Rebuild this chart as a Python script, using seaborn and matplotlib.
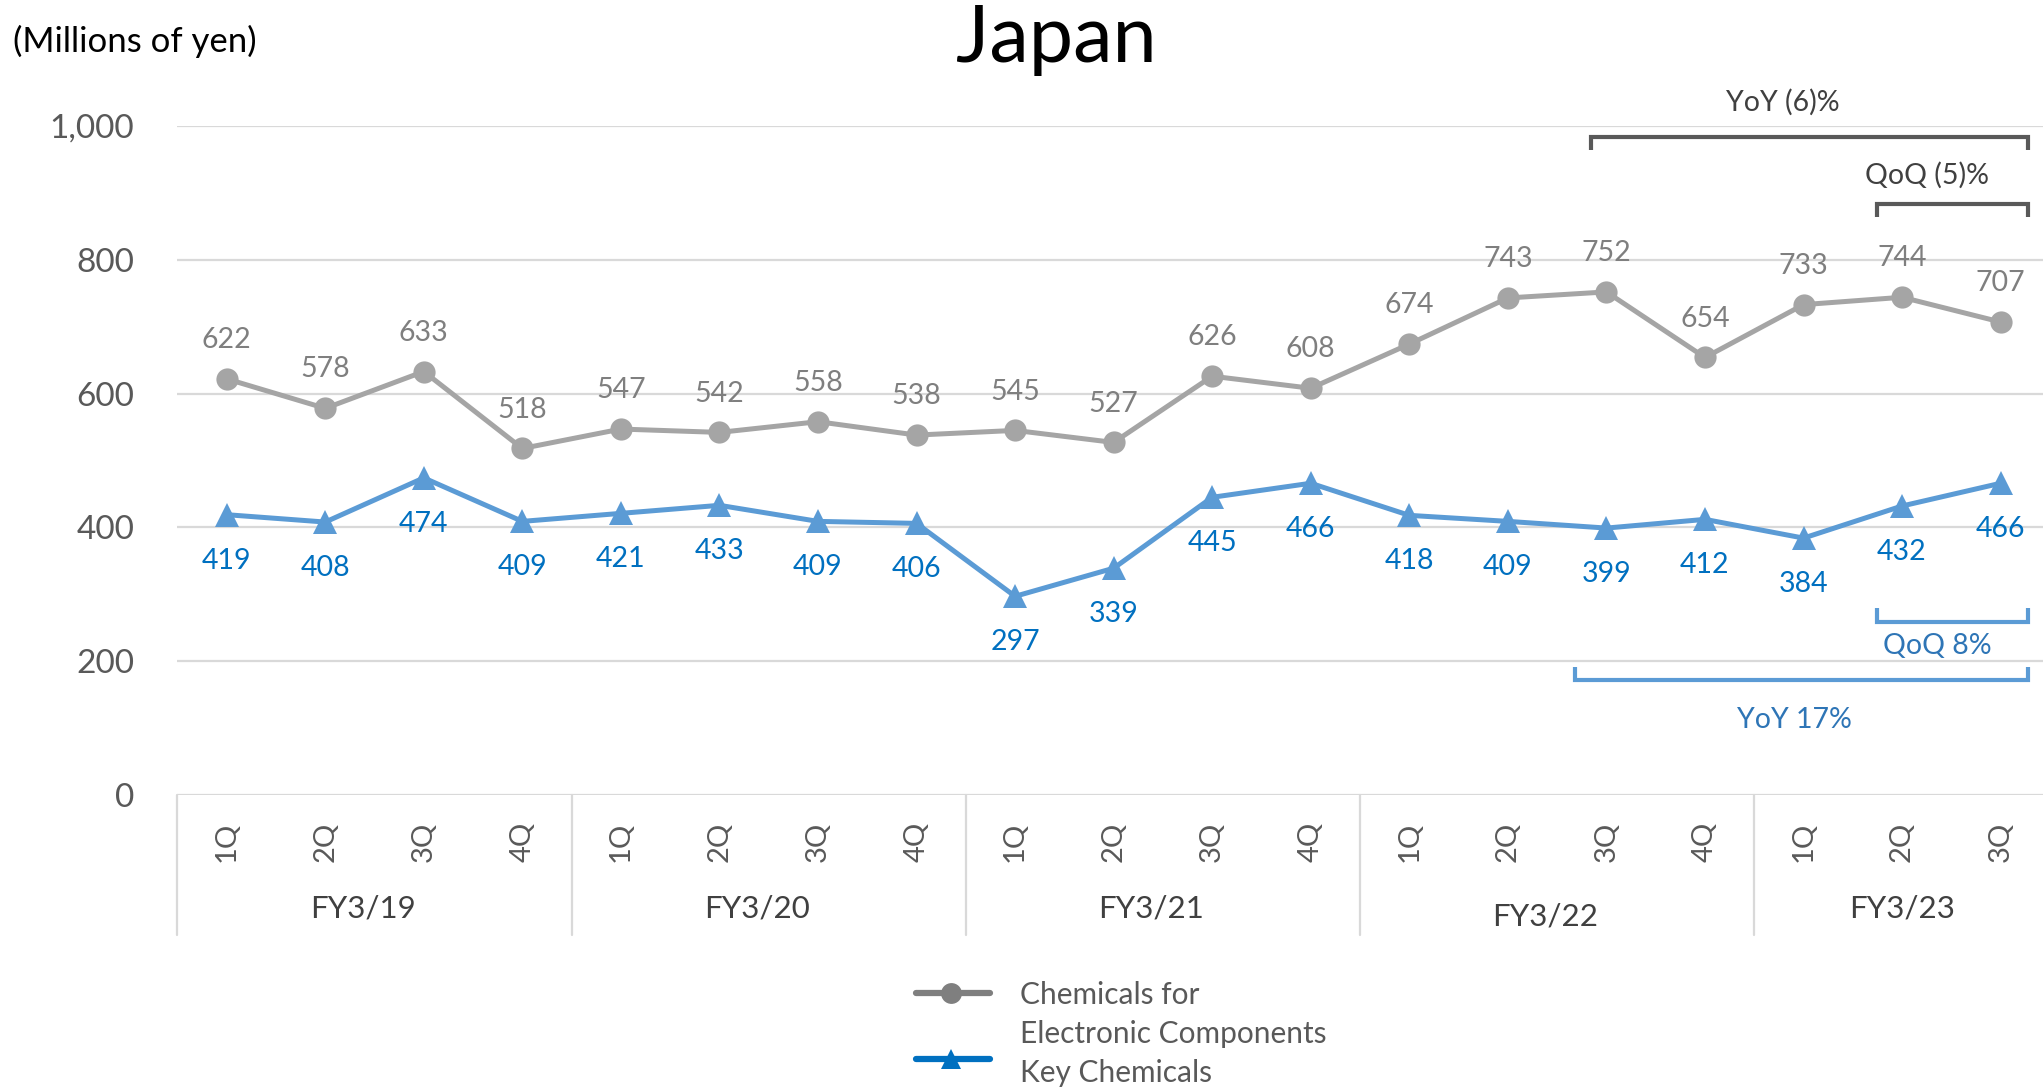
import matplotlib
matplotlib.use("Agg")
import matplotlib.pyplot as plt
import matplotlib.transforms as mtransforms
from matplotlib.lines import Line2D
import seaborn as sns
import pandas as pd

# ---- data ----
quarters = ["1Q", "2Q", "3Q", "4Q", "1Q", "2Q", "3Q", "4Q", "1Q", "2Q", "3Q", "4Q",
            "1Q", "2Q", "3Q", "4Q", "1Q", "2Q", "3Q"]
fiscal_years = ["FY3/19", "FY3/20", "FY3/21", "FY3/22", "FY3/23"]
fy_sizes = [4, 4, 4, 4, 3]
electronic = [622, 578, 633, 518, 547, 542, 558, 538, 545, 527, 626, 608,
              674, 743, 752, 654, 733, 744, 707]
key_chem = [419, 408, 474, 409, 421, 433, 409, 406, 297, 339, 445, 466,
            418, 409, 399, 412, 384, 432, 466]
yticks = [0, 200, 400, 600, 800, 1000]
ytick_labels = ["0", "200", "400", "600", "800", "1,000"]
series_names = ["Chemicals for\nElectronic Components", "Key Chemicals"]
title = "Japan"
unit_label = "(Millions of yen)"
gray_notes = ["YoY (6)%", "QoQ (5)%"]
blue_notes = ["QoQ 8%", "YoY 17%"]

GRAY = "#A5A5A5"
GRAY_TXT = "#7F7F7F"
BLUE = "#5B9BD5"
BLUE_TXT = "#0070C0"
AX_TXT = "#595959"

sns.set_theme(style="white")
plt.rcParams["font.family"] = ["Lato", "DejaVu Sans"]

W, H = 2043, 1087
fig = plt.figure(figsize=(W / 100, H / 100), dpi=100)
ax_left = 177.4 / W
ax_bottom = 1 - 795 / H
ax_h = 669 / H
ax = fig.add_axes([ax_left, ax_bottom, 1 - ax_left, ax_h])

idx = list(range(len(quarters)))
df = pd.DataFrame({"x": idx + idx,
                   "value": electronic + key_chem,
                   "series": [series_names[0]] * len(idx) + [series_names[1]] * len(idx)})

sns.lineplot(data=df[df.series == series_names[0]], x="x", y="value", ax=ax,
             color=GRAY, linewidth=3.6, marker="o", markersize=16,
             markeredgewidth=0, legend=False, zorder=3)
sns.lineplot(data=df[df.series == series_names[1]], x="x", y="value", ax=ax,
             color=BLUE, linewidth=3.6, marker="^", markersize=17,
             markeredgewidth=0, legend=False, zorder=3)

# data labels
for i, v in enumerate(electronic):
    ax.annotate(str(v), (i, v), xytext=(0, 28), textcoords="offset points",
                ha="center", va="center", fontsize=20.5, color=GRAY_TXT)
for i, v in enumerate(key_chem):
    ax.annotate(str(v), (i, v), xytext=(0, -33), textcoords="offset points",
                ha="center", va="center", fontsize=20.5, color=BLUE_TXT)

ax.set_xlim(-0.5, 18.43)
ax.set_ylim(0, 1000)
ax.set_yticks(yticks)
ax.set_yticklabels(ytick_labels)
ax.set_xticks(idx)
ax.set_xticklabels(quarters, rotation=90)
ax.tick_params(axis="y", length=0, pad=31, labelsize=24, labelcolor=AX_TXT)
ax.tick_params(axis="x", length=0, pad=19, labelsize=21, labelcolor=AX_TXT)
for lab in ax.get_xticklabels():
    lab.set_va("top")
ax.set_xlabel("")
ax.set_ylabel("")
for s in ax.spines.values():
    s.set_visible(False)
ax.grid(axis="y", color="#D9D9D9", linewidth=1.6)
ax.grid(axis="x", visible=False)

# category axis
trans = mtransforms.blended_transform_factory(ax.transData, ax.transAxes)
start = -0.5
fy_y = [-0.17, -0.17, -0.17, -0.181, -0.17]
for k, (fy, n) in enumerate(zip(fiscal_years, fy_sizes)):
    ax.plot([start, start], [0, -0.209], transform=trans, color="#D9D9D9",
            linewidth=1.6, clip_on=False)
    center = start + n / 2
    ax.text(center - (0.12 if k < 4 else 0), fy_y[k], fy, transform=trans,
            ha="center", va="center", fontsize=22.5, color="#404040")
    start += n

# brackets
def bracket(x0, x1, y_line, y_end, color):
    ax.plot([x0, x0, x1, x1], [y_end, y_line, y_line, y_end], color=color,
            linewidth=3, clip_on=False, solid_capstyle="butt",
            solid_joinstyle="miter", zorder=4)

bracket(13.84, 18.28, 984, 964, "#595959")
ax.text(15.79, 1036, gray_notes[0], ha="center", va="center", fontsize=20.5,
        color="#404040", clip_on=False)
bracket(16.75, 18.28, 883, 864, "#595959")
ax.text(17.25, 927, gray_notes[1], ha="center", va="center", fontsize=20.5,
        color="#404040", clip_on=False)
bracket(16.75, 18.28, 259, 280, BLUE)
ax.text(17.36, 223, blue_notes[0], ha="center", va="center", fontsize=20.5,
        color="#2E75B6", clip_on=False)
bracket(13.68, 18.28, 172, 192, BLUE)
ax.text(15.91, 112, blue_notes[1], ha="center", va="center", fontsize=20.5,
        color="#2E75B6", clip_on=False)

# titles
fig.text(1056 / W, 1 - 40 / H, title, ha="center", va="center", fontsize=57,
         color="black")
fig.text(13 / W, 1 - 41 / H, unit_label, ha="left", va="center", fontsize=25,
         color="black")

# legend (drawn in figure pixel space)
def fx(px):
    return px / W

def fy_(py):
    return 1 - py / H

fig.add_artist(Line2D([fx(916), fx(990)], [fy_(993), fy_(993)], color="#7F7F7F",
                      linewidth=4.5, transform=fig.transFigure))
fig.add_artist(Line2D([fx(951)], [fy_(993)], marker="o", markersize=15,
                      color="#7F7F7F", markeredgewidth=0, transform=fig.transFigure))
fig.add_artist(Line2D([fx(916), fx(990)], [fy_(1059), fy_(1059)], color=BLUE_TXT,
                      linewidth=4.5, transform=fig.transFigure))
fig.add_artist(Line2D([fx(951)], [fy_(1059)], marker="^", markersize=15,
                      color=BLUE_TXT, markeredgewidth=0, transform=fig.transFigure))
fig.text(fx(1020), fy_(995), "Chemicals for", ha="left", va="center",
         fontsize=21.5, color=AX_TXT)
fig.text(fx(1020), fy_(1034), "Electronic Components", ha="left", va="center",
         fontsize=21.5, color=AX_TXT)
fig.text(fx(1020), fy_(1073), series_names[1], ha="left", va="center",
         fontsize=21.5, color=AX_TXT)

fig.savefig("out.png", dpi=100)
